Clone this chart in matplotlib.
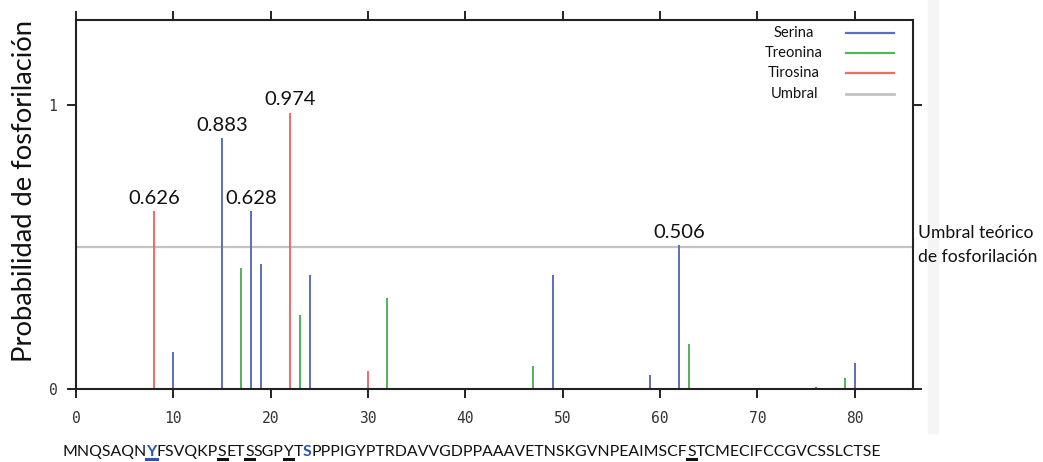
import matplotlib
matplotlib.use("Agg")
import matplotlib.pyplot as plt
from matplotlib.lines import Line2D
from matplotlib.patches import Rectangle

# ---------------- data ----------------
serine_pos = [4, 10, 15, 18, 19, 24, 49, 59, 62, 75, 76, 80]
serine_val = [0.005, 0.131, 0.883, 0.628, 0.44, 0.40, 0.40, 0.051, 0.506, 0.003, 0.008, 0.093]
threonine_pos = [17, 23, 32, 47, 63, 79]
threonine_val = [0.426, 0.26, 0.32, 0.081, 0.16, 0.038]
tyrosine_pos = [8, 22, 30]
tyrosine_val = [0.626, 0.974, 0.063]
threshold = 0.5
labeled_pos = [8, 15, 18, 22, 62]
x_ticks = [0, 10, 20, 30, 40, 50, 60, 70, 80]
y_ticks = [0, 1]
legend_labels = ["Serina", "Treonina", "Tirosina", "Umbral"]
sequence = "MNQSAQNYFSVQKPSETSSGPYTSPPPIGYPTRDAVVGDPPAAAVETNSKGVNPEAIMSCFSTCMECIFCCGVCSSLCTSE"
underlined_pos = [8, 15, 18, 22, 62]
highlight_pos = [8, 24]

# ---------------- style ----------------
C_SER = "#5b6fbf"
C_THR = "#4fb45a"
C_TYR = "#f06a6a"
C_THR_LINE = "#c3c3c3"
C_HL = "#2a55b0"
SPINE = "#222222"
SANS = ["Lato", "DejaVu Sans"]
MONO = ["DejaVu Sans Mono"]

W, H = 1043, 462
fig = plt.figure(figsize=(W / 100, H / 100), dpi=100)
fig.patch.set_facecolor("white")
fig.patches.append(Rectangle((928 / W, 1 - 433 / H), 10 / W, 433 / H,
                             transform=fig.transFigure, color="#f5f5f5", zorder=0))

ax = fig.add_axes([76 / W, 1 - 389 / H, (913 - 76) / W, (389 - 20) / H])
ax.set_xlim(0, 86)
ax.set_ylim(0, 1.3)

# threshold
ax.axhline(threshold, color=C_THR_LINE, lw=1.6, zorder=1)

# bars
ax.vlines(serine_pos, 0, serine_val, colors=C_SER, lw=1.4, zorder=2)
ax.vlines(threonine_pos, 0, threonine_val, colors=C_THR, lw=1.4, zorder=2)
ax.vlines(tyrosine_pos, 0, tyrosine_val, colors=C_TYR, lw=1.4, zorder=2)

# value labels
all_pos = serine_pos + threonine_pos + tyrosine_pos
all_val = serine_val + threonine_val + tyrosine_val
for p in labeled_pos:
    v = all_val[all_pos.index(p)]
    ax.annotate(f"{v:.3f}", (p, v), xytext=(0, 3), textcoords="offset points",
                ha="center", va="bottom", fontsize=14.5, family=SANS, color="#111111")

# spines & ticks
for s in ax.spines.values():
    s.set_color(SPINE)
    s.set_linewidth(1.5)
ax.set_xticks(x_ticks)
ax.set_yticks(y_ticks)
ax.tick_params(axis="both", direction="out", length=6.5, width=1.4, color=SPINE,
               top=True, right=True, labeltop=False, labelright=False)
ax.tick_params(axis="x", pad=9)
ax.tick_params(axis="y", pad=7)
for lab in ax.get_xticklabels() + ax.get_yticklabels():
    lab.set_family(MONO)
    lab.set_fontsize(10.5)
    lab.set_color("#333333")

# legend (drawn manually, no frame)
leg_colors = [C_SER, C_THR, C_TYR, C_THR_LINE]
leg_y = [0.965, 0.911, 0.856, 0.799]
for lab, col, yy in zip(legend_labels, leg_colors, leg_y):
    ax.text(0.858, yy, lab, transform=ax.transAxes, ha="center", va="center",
            fontsize=10.6, family=SANS, color="#111111")
    ax.add_line(Line2D([0.92, 0.977], [yy, yy], transform=ax.transAxes,
                       color=col, lw=1.6 if col != C_THR_LINE else 2.0))

# y label
fig.text(25 / W, 1 - 191 / H, "Probabilidad de fosforilación", rotation=90,
         ha="center", va="center", fontsize=19.7, family=SANS, color="#111111")

# threshold annotation
fig.text(918 / W, 1 - 233 / H, "Umbral teórico", ha="left", va="center",
         fontsize=12.6, family=SANS, color="#111111")
fig.text(918 / W, 1 - 257 / H, "de fosforilación", ha="left", va="center",
         fontsize=12.6, family=SANS, color="#111111")

# sequence line with highlighted residues
fig.canvas.draw()
r = fig.canvas.get_renderer()
target_w = 873 - 62
probe = fig.text(0, 0, sequence, fontsize=12, family=SANS)
pw = probe.get_window_extent(renderer=r).width
probe.remove()
seq_fs = 12 * target_w / pw

segments = []
cur = ""
for i, ch in enumerate(sequence, start=1):
    if i in underlined_pos or i in highlight_pos:
        if cur:
            segments.append((cur, False, False))
            cur = ""
        segments.append((ch, i in underlined_pos, i in highlight_pos))
    else:
        cur += ch
if cur:
    segments.append((cur, False, False))

x_px = 62
base_px = 456
for txt, ul, hl in segments:
    t = fig.text(x_px / W, 1 - base_px / H, txt, ha="left", va="baseline",
                 fontsize=seq_fs, family=SANS,
                 color=C_HL if hl else "#111111",
                 weight="bold" if hl else "normal")
    bb = t.get_window_extent(renderer=r)
    if ul:
        yl = (H - base_px - 3) / H
        fig.add_artist(Line2D([bb.x0 / W, bb.x1 / W], [yl, yl], transform=fig.transFigure,
                              color=C_HL if hl else "#111111", lw=2.2))
    x_px = bb.x1

fig.savefig("out.png", dpi=100)
